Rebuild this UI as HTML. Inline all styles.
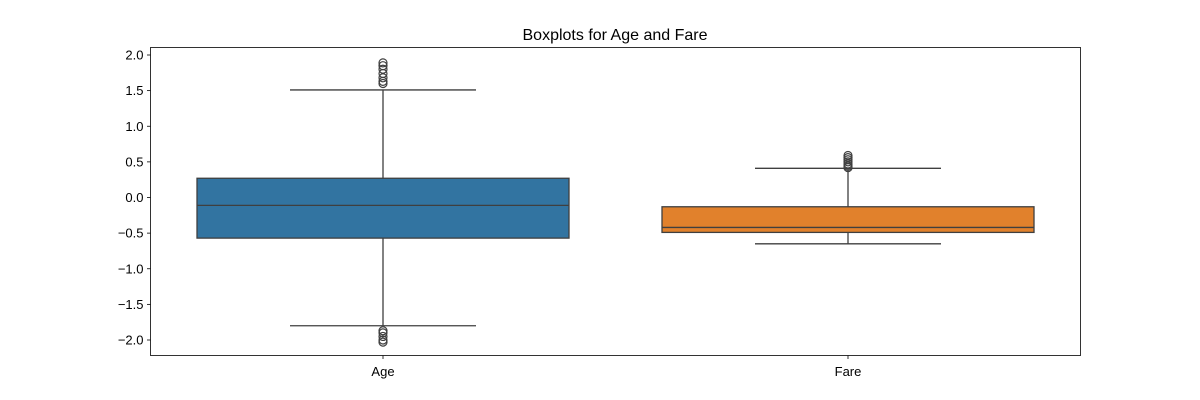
<!DOCTYPE html>
<html><head><meta charset="utf-8"><style>
body{margin:0;background:#fff;}
svg{display:block;font-family:"Liberation Sans","DejaVu Sans",sans-serif;}
</style></head><body>
<svg id="chart" width="1200" height="400">
<text x="615" y="40" text-anchor="middle" font-size="16" fill="#000">Boxplots for Age and Fare</text>
<rect x="150.5" y="47.5" width="930" height="308" fill="none" stroke="#000" stroke-width="0.8"/>
<g id="yaxis"></g><g id="xaxis"></g><g id="boxes"></g>
</svg>
<script>
const categories = ["Age", "Fare"];
const q1Values = [-0.57, -0.49];
const medianValues = [-0.11, -0.42];
const q3Values = [0.27, -0.13];
const whiskerLow = [-1.80, -0.65];
const whiskerHigh = [1.51, 0.41];
const outliersAge = [1.60, 1.63, 1.68, 1.74, 1.80, 1.85, 1.89, -1.87, -1.90, -1.95, -2.00, -2.03];
const outliersFare = [0.42, 0.44, 0.47, 0.50, 0.53, 0.56, 0.59];
const yTicks = [2.0, 1.5, 1.0, 0.5, 0.0, -0.5, -1.0, -1.5, -2.0];
const tickLabels = ["2.0","1.5","1.0","0.5","0.0","−0.5","−1.0","−1.5","−2.0"];
const colors = ["#3274a1", "#e1812c"];

const NS = "http://www.w3.org/2000/svg";
const L = 150.5, R = 1080.5;
function y(v){ return 197.5 - v * 71.25; }
function xc(i){ return L + (R - L) * (i + 0.5) / categories.length; }
const band = (R - L) / categories.length;
function mk(tag, attrs, parent){ const e = document.createElementNS(NS, tag); for (const k in attrs) e.setAttribute(k, attrs[k]); parent.appendChild(e); return e; }

const ya = document.getElementById('yaxis');
yTicks.forEach((t, i) => {
  const ln = mk('line', {x1:L-3.5, x2:L, y1:y(t), y2:y(t), stroke:'#000', 'stroke-width':0.8}, ya);
  
  
  const tx = mk('text', {x:L-7, y:y(t)+4.5, 'text-anchor':'end', 'font-size':13, fill:'#000'}, ya);
  tx.textContent = tickLabels[i];
  
  
});
const xa = document.getElementById('xaxis');
categories.forEach((c, i) => {
  const ln = mk('line', {x1:xc(i), x2:xc(i), y1:355.5, y2:359, stroke:'#000', 'stroke-width':0.8}, xa);
  
  
  const tx = mk('text', {x:xc(i), y:376, 'text-anchor':'middle', 'font-size':13, fill:'#000'}, xa);
  tx.textContent = c;
  
  
});
const bx = document.getElementById('boxes');
const outs = [outliersAge, outliersFare];
categories.forEach((c, i) => {
  const cx = xc(i), w = band * 0.8, cw = w / 2, st = '#3f3f3f';
  const g = mk('g', {}, bx);
  
  
  mk('line', {x1:cx, x2:cx, y1:y(q3Values[i]), y2:y(whiskerHigh[i]), stroke:st, 'stroke-width':1.3}, g);
  mk('line', {x1:cx, x2:cx, y1:y(q1Values[i]), y2:y(whiskerLow[i]), stroke:st, 'stroke-width':1.3}, g);
  mk('line', {x1:cx-cw/2, x2:cx+cw/2, y1:y(whiskerHigh[i]), y2:y(whiskerHigh[i]), stroke:st, 'stroke-width':1.3}, g);
  mk('line', {x1:cx-cw/2, x2:cx+cw/2, y1:y(whiskerLow[i]), y2:y(whiskerLow[i]), stroke:st, 'stroke-width':1.3}, g);
  mk('rect', {x:cx-w/2, y:y(q3Values[i]), width:w, height:y(q1Values[i])-y(q3Values[i]), fill:colors[i], stroke:st, 'stroke-width':1.3}, g);
  mk('line', {x1:cx-w/2, x2:cx+w/2, y1:y(medianValues[i]), y2:y(medianValues[i]), stroke:st, 'stroke-width':1.3}, g);
  outs[i].forEach(v => {
    const o = mk('circle', {cx:cx, cy:y(v), r:4, fill:'none', stroke:st, 'stroke-width':1.2}, g);
    
    
  });
});
</script>
</body></html>
